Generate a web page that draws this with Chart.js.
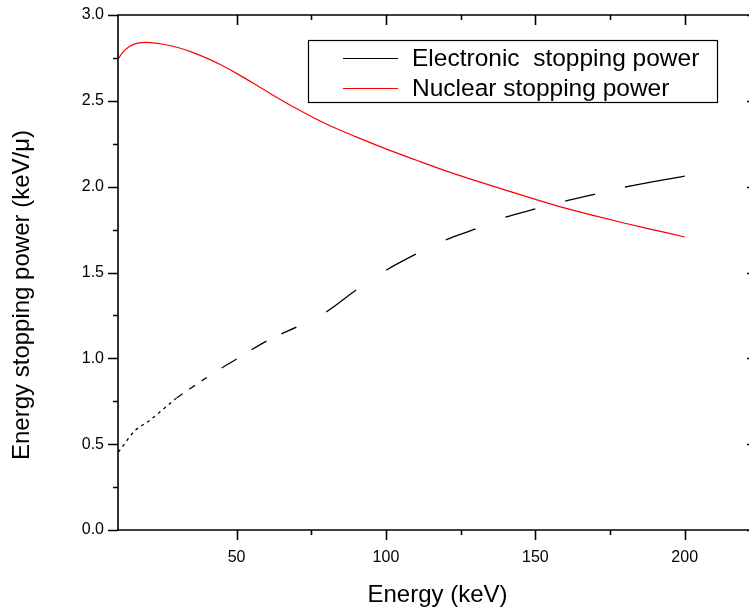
<!DOCTYPE html>
<html>
<head>
<meta charset="utf-8">
<script src="https://cdn.jsdelivr.net/npm/chart.js@4/dist/chart.umd.min.js"></script>
<style>
  html, body { margin: 0; padding: 0; background: #fff; overflow: hidden; }
  canvas { display: block; }
</style>
</head>
<body>
<canvas id="myChart" width="760" height="613"></canvas>
<script>
// Energía (keV) y poder de frenado electrónico
const energyElectronic = [10.4, 12, 14, 16, 18, 20, 25, 30, 35, 40, 45, 50, 55, 60, 65, 70, 80, 90, 100, 110, 120, 130, 140, 150, 160, 170, 180, 200];
const electronicPower = [0.454, 0.49, 0.538, 0.58, 0.605, 0.627, 0.697, 0.77, 0.83, 0.888, 0.944, 0.996, 1.05, 1.10, 1.142, 1.182, 1.27, 1.398, 1.513, 1.607, 1.69, 1.754, 1.822, 1.87, 1.916, 1.957, 1.998, 2.062];

// Energía (keV) y poder de frenado nuclear
const energyNuclear = [10.4, 12, 14, 16, 18, 20, 22, 25, 30, 35, 40, 45, 50, 60, 70, 80, 90, 100, 110, 120, 130, 140, 150, 160, 170, 180, 190, 200];
const nuclearPower = [2.745, 2.785, 2.815, 2.832, 2.839, 2.840, 2.838, 2.831, 2.812, 2.784, 2.749, 2.707, 2.660, 2.556, 2.455, 2.365, 2.29, 2.22, 2.155, 2.092, 2.035, 1.98, 1.926, 1.875, 1.83, 1.787, 1.747, 1.707];

const seriesLabels = ["Electronic  stopping power", "Nuclear stopping power"];
const xTitle = "Energy (keV)";
const yTitle = "Energy stopping power (keV/\u03bc)";

// tramos que quedan en blanco en la línea discontinua
const gapStarts = [40, 50, 60, 70, 90, 110, 130, 150, 170];

const FONT = "Arial, 'Liberation Sans', sans-serif";

// Ejes tipo Origin: marco, marcas mayores y menores, título vertical y leyenda
const originAxes = {
  id: "originAxes",
  afterDraw(chart) {
    const { ctx, chartArea: a, scales } = chart;
    const xs = scales.x, ys = scales.y;
    ctx.save();
    ctx.strokeStyle = "#000";
    ctx.lineWidth = 1.6;
    ctx.beginPath();
    ctx.moveTo(a.left, a.top); ctx.lineTo(a.left, a.bottom);
    ctx.moveTo(a.left - 1, a.bottom); ctx.lineTo(a.right, a.bottom);
    ctx.moveTo(a.left - 1, a.top); ctx.lineTo(a.right, a.top);
    ctx.moveTo(a.right, a.top); ctx.lineTo(a.right, a.bottom);
    xs.ticks.forEach(t => {
      const q = t.value / 25;
      if (Math.abs(q - Math.round(q)) > 1e-6) return;
      const len = Math.round(q) % 2 === 0 ? 10 : 5;
      const px = Math.round(xs.getPixelForValue(t.value)) + 0.5;
      ctx.moveTo(px, a.bottom); ctx.lineTo(px, a.bottom + len);
      ctx.moveTo(px, a.top); ctx.lineTo(px, a.top + len);
    });
    ys.ticks.forEach(t => {
      const q = t.value / 0.25;
      if (Math.abs(q - Math.round(q)) > 1e-6) return;
      const len = Math.round(q) % 2 === 0 ? 10 : 5;
      const py = Math.round(ys.getPixelForValue(t.value)) + 0.5;
      ctx.moveTo(a.left, py); ctx.lineTo(a.left - len, py);
      ctx.moveTo(a.right, py); ctx.lineTo(a.right - len, py);
    });
    ctx.stroke();

    // título del eje Y
    ctx.fillStyle = "#000";
    ctx.font = "24px " + FONT;
    ctx.textAlign = "center";
    ctx.textBaseline = "middle";
    ctx.translate(22, 295);
    ctx.rotate(-Math.PI / 2);
    ctx.fillText(yTitle, 0, 0);
    ctx.restore();

    // leyenda con marco
    ctx.save();
    ctx.strokeStyle = "#000";
    ctx.lineWidth = 1.2;
    ctx.strokeRect(308.5, 40.5, 409, 62);
    ctx.font = "24.5px " + FONT;
    ctx.textBaseline = "middle";
    ctx.textAlign = "left";
    chart.data.datasets.forEach((ds, i) => {
      const y = 58 + i * 30;
      ctx.strokeStyle = ds.borderColor;
      ctx.lineWidth = 1.2;
      ctx.beginPath();
      ctx.moveTo(343, y + 0.5); ctx.lineTo(398, y + 0.5);
      ctx.stroke();
      ctx.fillStyle = "#000";
      ctx.fillText(ds.label, 412, y + 1);
    });
    ctx.restore();
  }
};

const ctx = document.getElementById("myChart").getContext("2d");
new Chart(ctx, {
  type: "line",
  data: {
    datasets: [
      {
        label: seriesLabels[0],
        data: energyElectronic.map((e, i) => ({ x: e, y: electronicPower[i] })),
        borderColor: "#000",
        borderWidth: 1.3,
        pointRadius: 0,
        cubicInterpolationMode: "monotone",
        segment: {
          borderColor: c => gapStarts.includes(c.p0.parsed.x) ? "rgba(0,0,0,0)" : "#000",
          borderDash: c => c.p0.parsed.x < 30 ? [3, 4] : (c.p0.parsed.x < 40 ? [7, 8] : undefined)
        }
      },
      {
        label: seriesLabels[1],
        data: energyNuclear.map((e, i) => ({ x: e, y: nuclearPower[i] })),
        borderColor: "#ff0000",
        borderWidth: 1.2,
        pointRadius: 0,
        cubicInterpolationMode: "monotone"
      }
    ]
  },
  options: {
    responsive: false,
    animation: false,
    layout: { padding: { top: 15, right: 3, left: 0, bottom: 0 } },
    plugins: { legend: { display: false }, tooltip: { enabled: false } },
    scales: {
      x: {
        type: "linear",
        min: 10.3,
        max: 224.2,
        afterFit: s => { s.height = 83; s.paddingLeft = 0; s.paddingRight = 0; },
        grid: { display: false },
        border: { display: false },
        ticks: {
          stepSize: 25,
          autoSkip: false,
          maxRotation: 0,
          padding: 10,
          color: "#000",
          font: { family: FONT, size: 16 },
          callback: v => (Math.abs(v % 50) < 1e-6 ? String(v) : "")
        },
        title: {
          display: true,
          text: xTitle,
          color: "#000",
          font: { family: FONT, size: 24, lineHeight: 1.1 }
        }
      },
      y: {
        min: 0,
        max: 3,
        afterFit: s => { s.width = 118; s.paddingTop = 0; s.paddingBottom = 0; },
        grid: { display: false },
        border: { display: false },
        ticks: {
          stepSize: 0.25,
          autoSkip: false,
          padding: 6,
          color: "#000",
          font: { family: FONT, size: 16 },
          callback: v => (Math.abs((v * 2) - Math.round(v * 2)) < 1e-6 ? v.toFixed(1) : "")
        }
      }
    }
  },
  plugins: [originAxes]
});
</script>
</body>
</html>
